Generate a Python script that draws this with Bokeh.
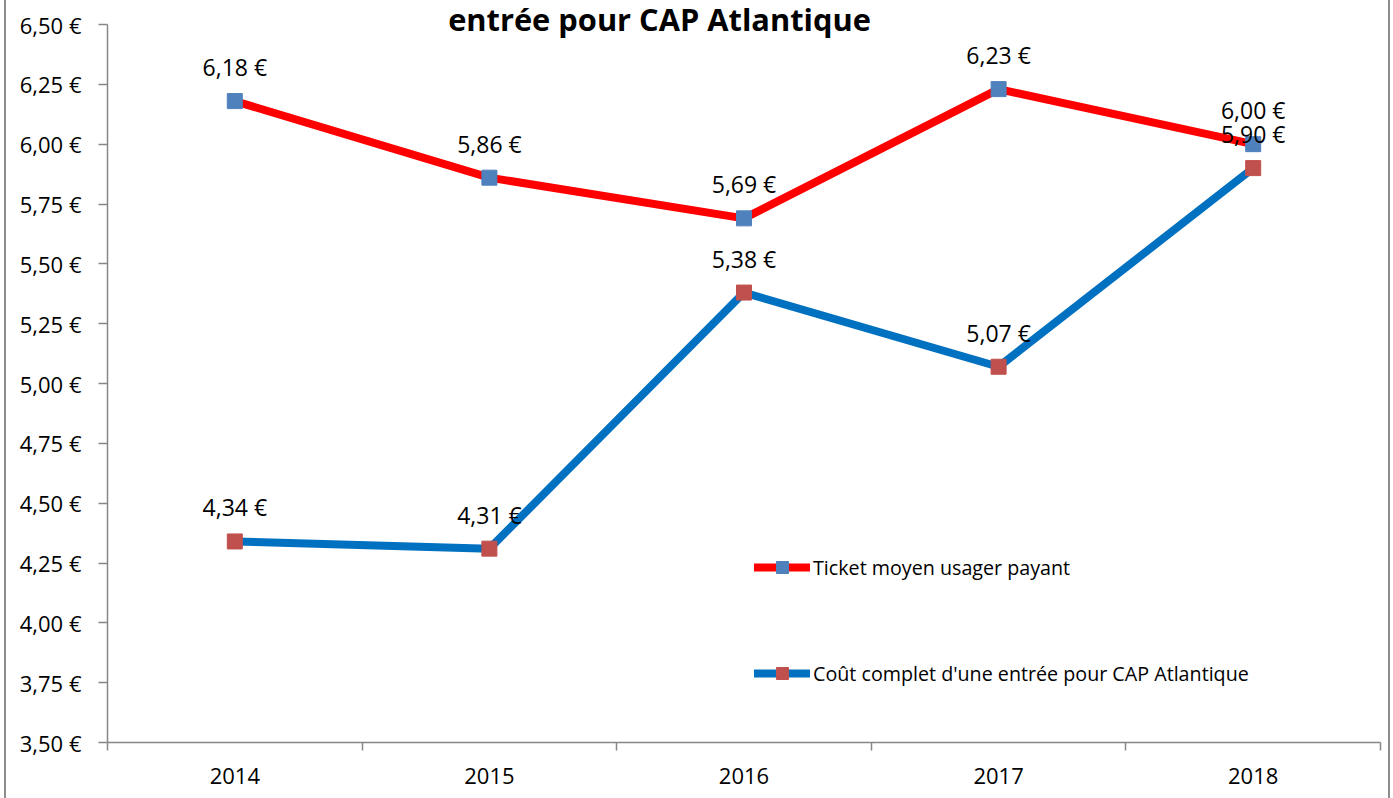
from bokeh.plotting import figure
from bokeh.models import FixedTicker, Label, Legend, LegendItem, Range1d
from bokeh.embed import file_html
from bokeh.resources import INLINE
from bokeh.core.properties import value

# ---- data ----
years = ["2014", "2015", "2016", "2017", "2018"]
ticket = [6.18, 5.86, 5.69, 6.23, 6.00]
cout = [4.34, 4.31, 5.38, 5.07, 5.90]
series_names = ["Ticket moyen usager payant",
                "Coût complet d'une entrée pour CAP Atlantique"]
title_text = "entrée pour CAP Atlantique"
y_ticks = [3.50, 3.75, 4.00, 4.25, 4.50, 4.75, 5.00, 5.25, 5.50, 5.75, 6.00, 6.25, 6.50]


def eur(v):
    return f"{v:.2f}".replace(".", ",") + " €"


FONT = "Open Sans"
xs = [i + 0.5 for i in range(len(years))]
boundaries = list(range(len(years) + 1))

# the plot frame extends to the top of the canvas so that the title (drawn
# inside it) is not clipped; the axis itself is bounded to 3,50 - 6,50
y_lo, y_hi = y_ticks[0], y_ticks[-1]
y_top = y_hi + (y_hi - y_lo) * 24 / 718

p = figure(width=1386, height=798, x_range=Range1d(0, len(years)), y_range=Range1d(y_lo, y_top),
           output_backend="svg", toolbar_location=None,
           min_border_left=101, min_border_right=12, min_border_top=0, min_border_bottom=56)
p.styles = {"border-left": "2px solid #8c8c8c", "border-right": "2px solid #8c8c8c",
            "box-sizing": "border-box", "margin-left": "4px"}
p.grid.visible = False
p.outline_line_color = None
p.background_fill_color = "white"
p.border_fill_color = "white"

axis_col = "#868686"
# y axis
p.yaxis.bounds = (y_lo, y_hi)
p.yaxis.ticker = FixedTicker(ticks=y_ticks)
p.yaxis.major_label_overrides = {t: eur(t) for t in y_ticks}
p.yaxis.axis_line_color = axis_col
p.yaxis.axis_line_width = 1.5
p.yaxis.major_tick_line_color = axis_col
p.yaxis.major_tick_line_width = 1.5
p.yaxis.major_tick_out = 9
p.yaxis.major_tick_in = 0
p.yaxis.minor_tick_line_color = None
p.yaxis.major_label_standoff = 17
p.yaxis.major_label_text_font = FONT
p.yaxis.major_label_text_font_size = "22px"
p.yaxis.major_label_text_color = "black"

# x axis
p.xaxis.ticker = FixedTicker(ticks=xs, minor_ticks=boundaries)
p.xaxis.major_label_overrides = {x: y for x, y in zip(xs, years)}
p.xaxis.axis_line_color = axis_col
p.xaxis.axis_line_width = 1.5
p.xaxis.major_tick_line_color = None
p.xaxis.major_tick_out = 0
p.xaxis.major_tick_in = 0
p.xaxis.minor_tick_line_color = axis_col
p.xaxis.minor_tick_line_width = 1.5
p.xaxis.minor_tick_out = 8
p.xaxis.minor_tick_in = 0
p.xaxis.major_label_standoff = 17
p.xaxis.major_label_text_font = FONT
p.xaxis.major_label_text_font_size = "22px"
p.xaxis.major_label_text_color = "black"

# series
l1 = p.line(xs, ticket, line_color="#FF0000", line_width=8, line_cap="round")
l2 = p.line(xs, cout, line_color="#0070C0", line_width=8, line_cap="round")
m1 = p.scatter(xs, ticket, marker="square", size=15, fill_color="#4F81BD", line_color="#4F81BD")
m2 = p.scatter(xs, cout, marker="square", size=15, fill_color="#C0504D", line_color="#C0504D")

for vals in (ticket, cout):
    p.text(xs, vals, text=[eur(v) for v in vals], y_offset=-34,
           text_align="center", text_baseline="middle",
           text_font=value(FONT), text_font_size="23px", text_color="black")

legend = Legend(items=[LegendItem(label=series_names[0], renderers=[l1, m1]),
                       LegendItem(label=series_names[1], renderers=[l2, m2])],
                location=(647, 54), glyph_width=56, glyph_height=30, label_height=30,
                spacing=76, padding=0, margin=0, border_line_color=None,
                background_fill_alpha=0, label_standoff=3,
                label_text_font=FONT, label_text_font_size="19.7px", label_text_color="black")
p.add_layout(legend)

title = Label(x=552, y=724, x_units="screen", y_units="screen", text=title_text,
              text_align="center", text_baseline="alphabetic",
              text_font=FONT, text_font_size="30.8px", text_font_style="bold",
              text_color="black")
p.add_layout(title)

open("out.html", "w").write(file_html(p, INLINE))
